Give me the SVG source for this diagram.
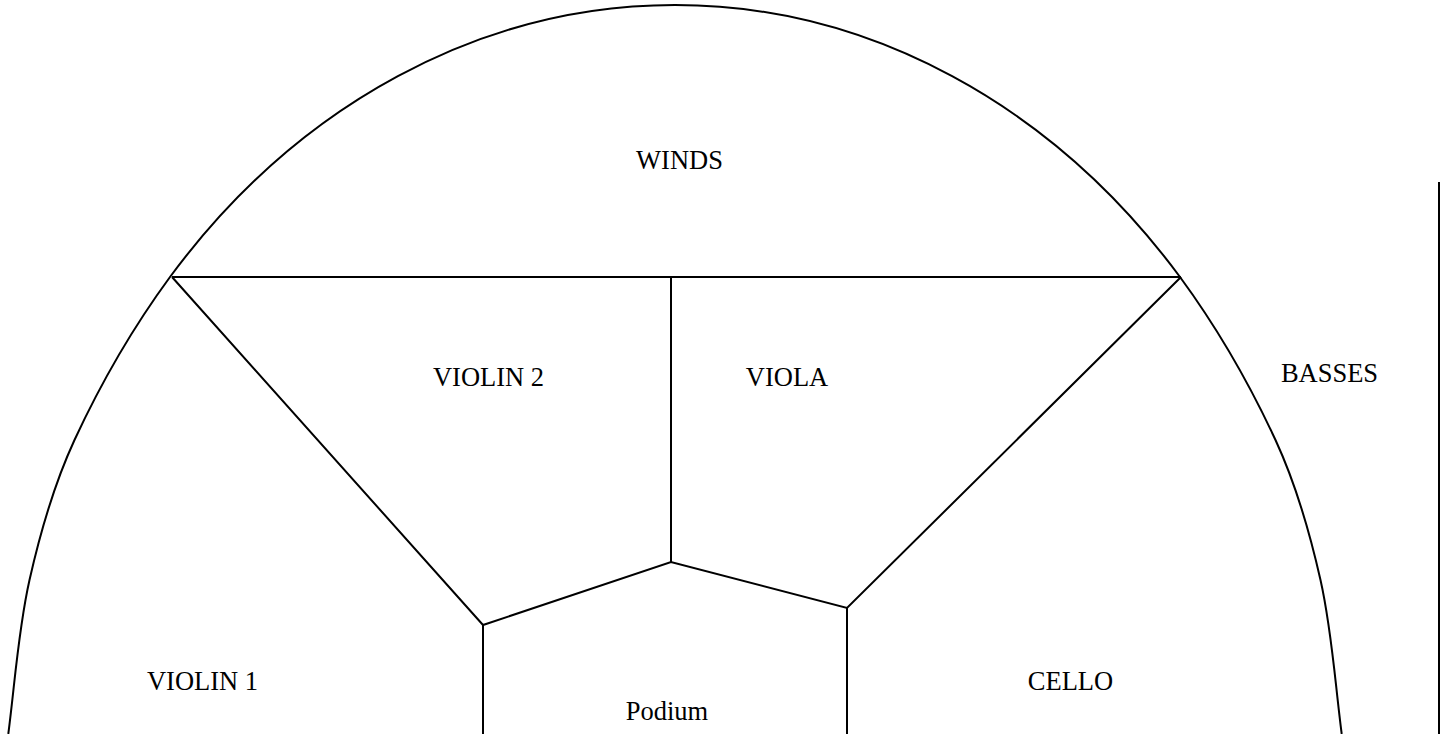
<svg xmlns="http://www.w3.org/2000/svg" width="1447" height="734" viewBox="0 0 1447 734">
<style>
.ln{fill:none;stroke:#000;stroke-width:2;stroke-linejoin:miter}
.lb{font-family:"Liberation Serif","Times New Roman",serif;font-size:26.5px;fill:#000;text-anchor:middle}
</style>
<defs>
<path id="halfArc" d="M8.3,734 C15,682.6 18.1,630.5 29.5,580 C40.3,532.2 53.9,484.5 74.5,440 C101,382.8 132.7,327.8 170,277 A672.5 801 0 0 1 675 5"/>
</defs>
<rect width="1447" height="734" fill="#fff"/>
<g id="connectors">
<use href="#halfArc" class="ln"/>
<use href="#halfArc" class="ln" transform="matrix(-1 0 0 1 1350 0)"/>
<line class="ln" x1="172" y1="277" x2="1181" y2="277"/>
<polyline class="ln" points="172,277 483,625 671,562 847,608 1181,277"/>
<line class="ln" x1="671" y1="277" x2="671" y2="562"/>
<line class="ln" x1="483" y1="625" x2="483" y2="734"/>
<line class="ln" x1="847" y1="608" x2="847" y2="734"/>
<line class="ln" x1="1439" y1="182" x2="1439" y2="734" stroke-width="2.5"/>
</g>
<g id="winds"><text class="lb" x="679.5" y="169">WINDS</text></g>
<g id="violin2"><text class="lb" x="488.5" y="386">VIOLIN 2</text></g>
<g id="viola"><text class="lb" x="787" y="386">VIOLA</text></g>
<g id="basses"><text class="lb" x="1329.5" y="382">BASSES</text></g>
<g id="violin1"><text class="lb" x="202.5" y="690">VIOLIN 1</text></g>
<g id="cello"><text class="lb" x="1070.5" y="690">CELLO</text></g>
<g id="podium"><text class="lb" x="667" y="720">Podium</text></g>
</svg>
